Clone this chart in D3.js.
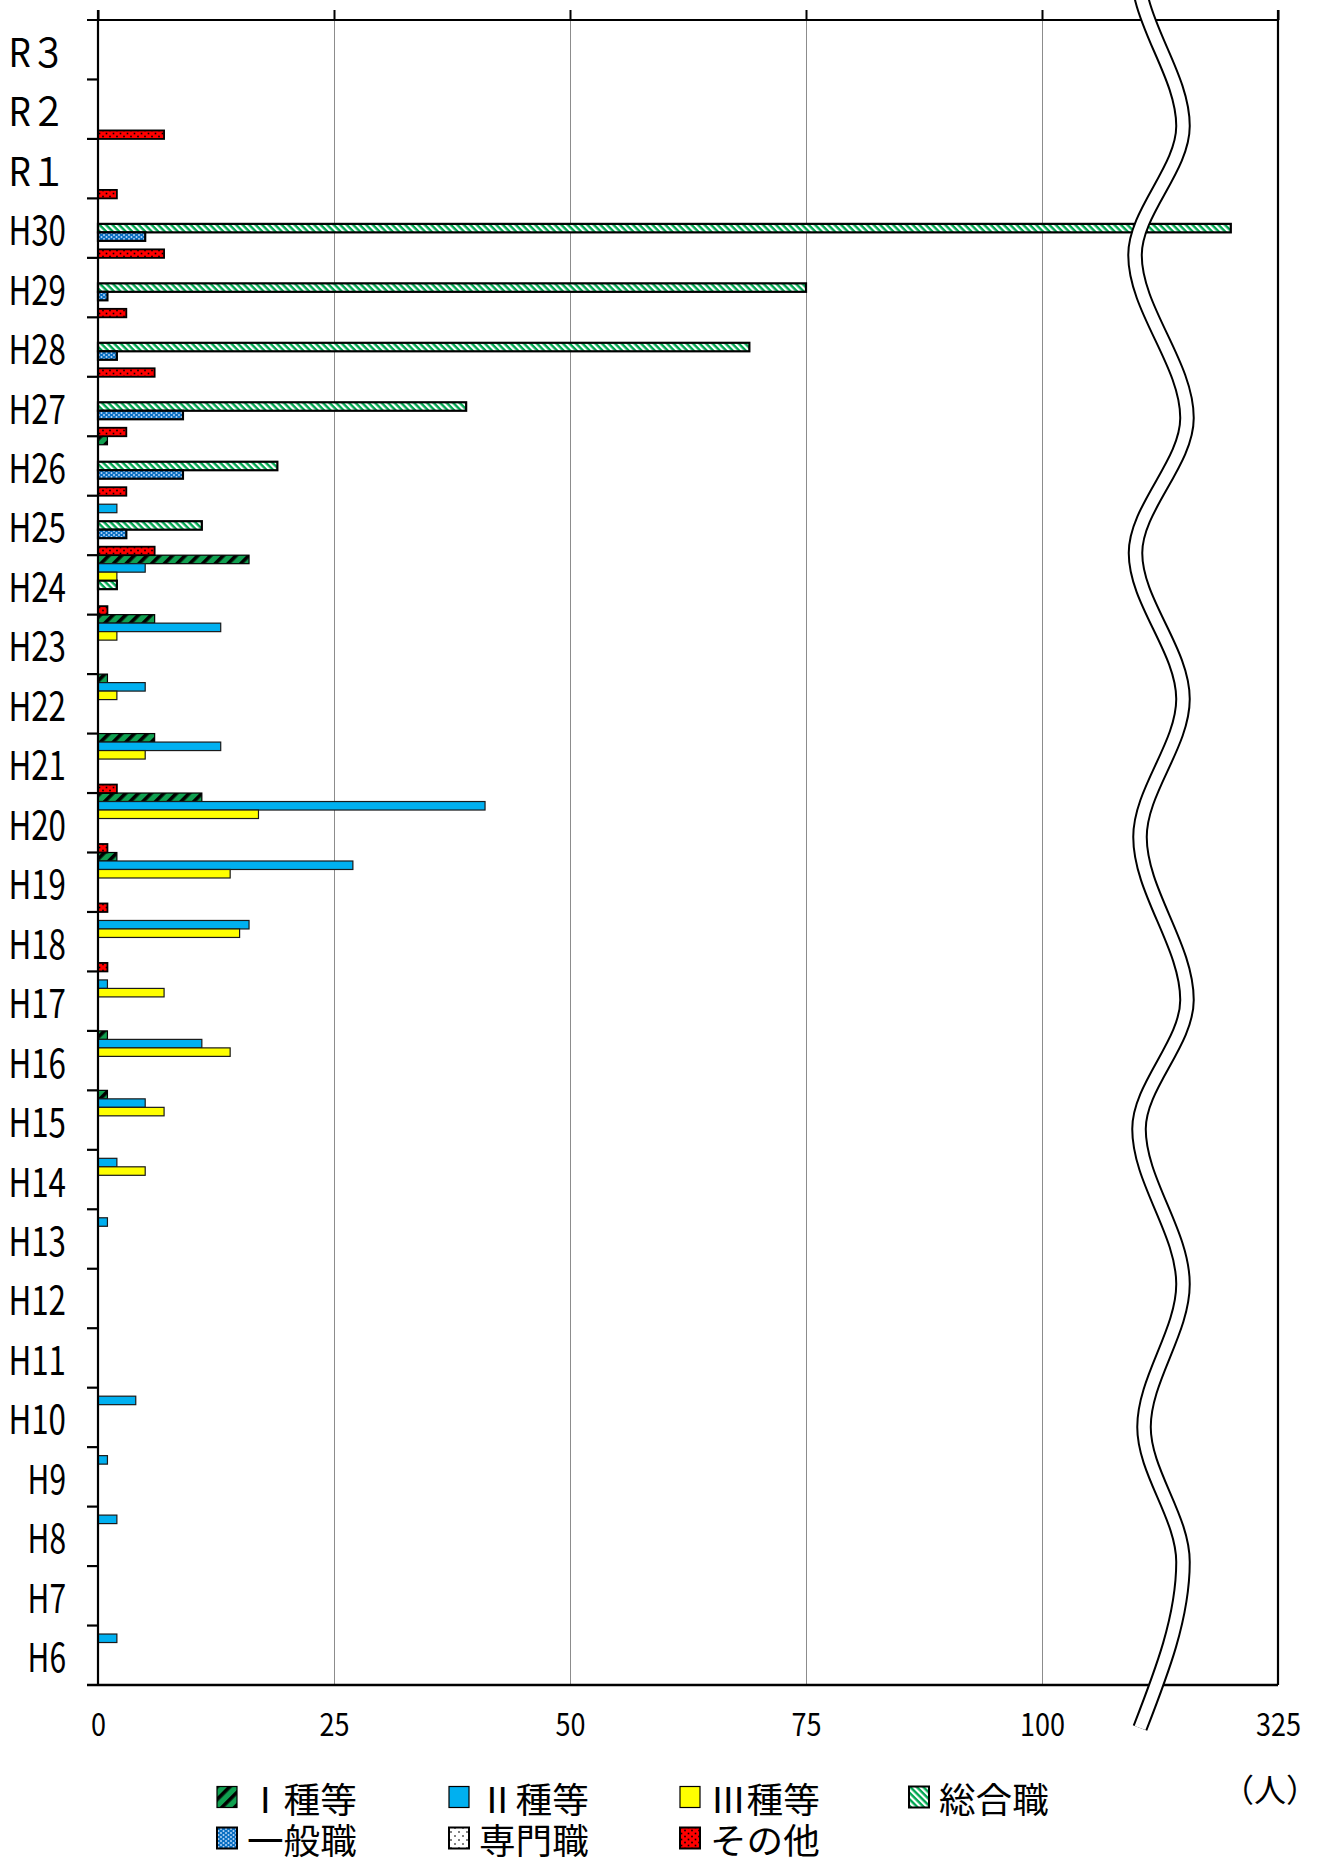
<!DOCTYPE html>
<html lang="ja">
<head>
<meta charset="utf-8">
<script src="https://cdn.jsdelivr.net/npm/d3@7"></script>
<style>
  html, body { margin: 0; padding: 0; background: #fff; }
  svg { display: block; font-family: "Noto Sans CJK JP", sans-serif; }
</style>
</head>
<body>
<svg id="chart" width="1319" height="1861"></svg>
<script>
// ---- data -------------------------------------------------------------
const categories = ["R３","R２","R１","H30","H29","H28","H27","H26","H25","H24","H23","H22",
  "H21","H20","H19","H18","H17","H16","H15","H14","H13","H12","H11","H10","H9","H8","H7","H6"];

const seriesNames = ["Ⅰ種等","Ⅱ種等","Ⅲ種等","総合職","一般職","専門職","その他"];

//                R3 R2 R1 30  29  28  27  26  25  24  23  22  21  20  19  18  17  16  15  14  13  12  11  10  9  8  7  6
const type1     = [0, 0, 0, 0,  0,  0,  0,  1,  0, 16,  6,  1,  6, 11,  2,  0,  0,  1,  1,  0,  0,  0,  0,  0, 0, 0, 0, 0];
const type2     = [0, 0, 0, 0,  0,  0,  0,  0,  2,  5, 13,  5, 13, 41, 27, 16,  1, 11,  5,  2,  1,  0,  0,  4, 1, 2, 0, 2];
const type3     = [0, 0, 0, 0,  0,  0,  0,  0,  0,  2,  2,  2,  5, 17, 14, 15,  7, 14,  7,  5,  0,  0,  0,  0, 0, 0, 0, 0];
const career    = [0, 0, 0, 320, 75, 69, 39, 19, 11,  2,  0,  0,  0,  0,  0,  0,  0,  0,  0,  0,  0,  0,  0,  0, 0, 0, 0, 0];
const general   = [0, 0, 0, 5,  1,  2,  9,  9,  3,  0,  0,  0,  0,  0,  0,  0,  0,  0,  0,  0,  0,  0,  0,  0, 0, 0, 0, 0];
const specialist= [0, 0, 0, 0,  0,  0,  0,  0,  0,  0,  0,  0,  0,  0,  0,  0,  0,  0,  0,  0,  0,  0,  0,  0, 0, 0, 0, 0];
const other     = [0, 7, 2, 7,  3,  6,  3,  3,  6,  1,  0,  0,  2,  1,  1,  1,  0,  0,  0,  0,  0,  0,  0,  0, 0, 0, 0, 0];

// value axis: the last tick sits past a break, so its label reads 325
const valueTicks = [0, 25, 50, 75, 100, 125];
const valueTickLabels = ["0", "25", "50", "75", "100", "325"];
const breakAfter = 100;
const unitLabel = "（人）";

// ---- layout & style ---------------------------------------------------
const M = { left: 98, right: 1278, top: 20, bottom: 1685 };
const breakShift = +valueTickLabels[valueTickLabels.length - 1] - valueTicks[valueTicks.length - 1];
const toAxis = v => (v > breakAfter ? v - breakShift : v);

const styles = [
  { fill: "url(#pat-type1)",  stroke: "#000", sw: 1.2 },
  { fill: "#00b0f0",          stroke: "#1a1a1a", sw: 1.2 },
  { fill: "#ffff00",          stroke: "#1a1a1a", sw: 1.2 },
  { fill: "url(#pat-career)", stroke: "#000", sw: 2.2 },
  { fill: "url(#pat-general)",stroke: "#000", sw: 2.2 },
  { fill: "url(#pat-spec)",   stroke: "#000", sw: 2.2 },
  { fill: "url(#pat-other)",  stroke: "#000", sw: 1.8 }
];
const seriesValues = [type1, type2, type3, career, general, specialist, other];
const series = seriesNames.map((name, i) => ({ name, values: seriesValues[i], ...styles[i] }));

const svg = d3.select("#chart");

// ---- fill patterns ----------------------------------------------------
const defs = svg.append("defs");
function stripePattern(id, bg, fg, size, stripe, angle) {
  const p = defs.append("pattern").attr("id", id).attr("patternUnits", "userSpaceOnUse")
    .attr("width", size).attr("height", size).attr("patternTransform", `rotate(${angle})`);
  p.append("rect").attr("width", size).attr("height", size).attr("fill", bg);
  p.append("rect").attr("width", stripe).attr("height", size).attr("fill", fg);
}
function dotPattern(id, bg, fg, w, h, dots, r) {
  const p = defs.append("pattern").attr("id", id).attr("patternUnits", "userSpaceOnUse")
    .attr("width", w).attr("height", h);
  p.append("rect").attr("width", w).attr("height", h).attr("fill", bg);
  dots.forEach(([cx, cy]) => p.append("rect").attr("x", cx - r).attr("y", cy - r)
    .attr("width", 2 * r).attr("height", 2 * r).attr("fill", fg));
}
stripePattern("pat-type1", "#10a050", "#000", 9, 3.6, 45);
stripePattern("pat-career", "#00a650", "#fff", 4.6, 2.2, -45);
dotPattern("pat-general", "#0a6fc2", "#cfe6ff", 5, 4, [[1.5, 1], [4, 3]], 0.8);
dotPattern("pat-spec", "#fff", "#000", 8, 8, [[2, 2], [6, 6]], 0.7);
dotPattern("pat-other", "#ff0000", "#000", 7, 6, [[1.5, 1.5], [5, 4.5]], 0.8);

// ---- scales -----------------------------------------------------------
const x = d3.scaleLinear().domain([valueTicks[0], valueTicks[valueTicks.length - 1]]).range([M.left, M.right]);
const y = d3.scaleBand().domain(categories).range([M.top, M.bottom]);
const ySub = d3.scaleBand().domain(seriesNames).range([0, y.bandwidth()]);

// ---- grid -------------------------------------------------------------
svg.append("g").selectAll("line")
  .data(valueTicks.filter((d, i) => i > 0 && i < valueTicks.length - 1))
  .join("line")
  .attr("x1", d => x(d) + 0.5).attr("x2", d => x(d) + 0.5)
  .attr("y1", M.top).attr("y2", M.bottom)
  .attr("stroke", "#8c8c8c").attr("stroke-width", 1);

// ---- bars -------------------------------------------------------------
const groups = svg.append("g").selectAll("g")
  .data(series).join("g")
  .attr("fill", d => d.fill).attr("stroke", d => d.stroke).attr("stroke-width", d => d.sw);

groups.selectAll("rect")
  .data(s => s.values.map((v, i) => ({ v, cat: categories[i], name: s.name })).filter(d => d.v > 0))
  .join("rect")
  .attr("x", x(0))
  .attr("y", d => y(d.cat) + ySub(d.name))
  .attr("width", d => x(toAxis(d.v)) - x(0))
  .attr("height", ySub.bandwidth());

// ---- frame & ticks ----------------------------------------------------
const frame = svg.append("g").attr("stroke", "#000").attr("stroke-width", 2.2).attr("fill", "none");
const tickLen = 11;
frame.append("line").attr("x1", M.left - tickLen).attr("x2", M.right).attr("y1", M.top).attr("y2", M.top);
frame.append("line").attr("x1", M.left - tickLen).attr("x2", M.right).attr("y1", M.bottom).attr("y2", M.bottom).attr("stroke-width", 2.6);
frame.append("line").attr("x1", M.left).attr("x2", M.left).attr("y1", M.top - 10).attr("y2", M.bottom);
frame.append("line").attr("x1", M.right).attr("x2", M.right).attr("y1", M.top - 10).attr("y2", M.bottom);

// value ticks along the top edge
const topAxis = svg.append("g").attr("transform", `translate(0,${M.top})`)
  .call(d3.axisTop(x).tickValues(valueTicks).tickSize(10).tickFormat(""));
topAxis.select(".domain").remove();
topAxis.selectAll("line").attr("stroke", "#000").attr("stroke-width", 2);

// category boundary ticks
svg.append("g").attr("stroke", "#000").attr("stroke-width", 2.2)
  .selectAll("line").data(categories.slice(1)).join("line")
  .attr("x1", M.left - tickLen).attr("x2", M.left)
  .attr("y1", d => y(d)).attr("y2", d => y(d));

// ---- axis labels ------------------------------------------------------
const halfWidth = s => Array.from(s).reduce((n, ch) => n + (ch.charCodeAt(0) > 0xff ? 2 : 1), 0);

const leftAxis = svg.append("g").attr("transform", `translate(${M.left},0)`)
  .call(d3.axisLeft(y).tickSize(0).tickPadding(32));
leftAxis.select(".domain").remove();
leftAxis.selectAll("text")
  .attr("font-family", '"Noto Sans CJK JP", sans-serif')
  .attr("font-size", 40).attr("fill", "#000")
  .attr("dy", null).attr("dominant-baseline", "central")
  .attr("textLength", d => halfWidth(d) * 19.2)
  .attr("lengthAdjust", "spacingAndGlyphs");

const bottomAxis = svg.append("g").attr("transform", `translate(0,${M.bottom})`)
  .call(d3.axisBottom(x).tickValues(valueTicks).tickSize(0).tickPadding(37)
    .tickFormat((d, i) => valueTickLabels[i]));
bottomAxis.select(".domain").remove();
bottomAxis.selectAll("text")
  .attr("font-family", '"Noto Sans CJK JP", sans-serif')
  .attr("font-size", 31).attr("fill", "#000")
  .attr("dy", null).attr("dominant-baseline", "central")
  .attr("textLength", function () { return this.textContent.length * 15; })
  .attr("lengthAdjust", "spacingAndGlyphs");

// ---- axis break symbol ------------------------------------------------
const breakX = x(112.5);
const breakWave = [[-24, -25], [-18, 0], [23, 126], [-25, 255], [27, 418], [-24.5, 553], [23, 699],
  [-20, 837], [27, 1000], [-21, 1129], [23, 1284], [-16, 1427], [23, 1562], [-20, 1728]];
const wavePath = d3.line().x(d => breakX + d[0]).y(d => d[1]).curve(d3.curveMonotoneY)(breakWave);
svg.append("path").attr("d", wavePath).attr("fill", "none").attr("stroke", "#000").attr("stroke-width", 15.5);
svg.append("path").attr("d", wavePath).attr("fill", "none").attr("stroke", "#fff").attr("stroke-width", 11.5);

// ---- legend -----------------------------------------------------------
const legendCols = [217, 449, 680, 909];
const legendRows = [1797, 1838];
const legend = svg.append("g");
series.forEach((s, k) => {
  const cx = legendCols[k % 4], cy = legendRows[Math.floor(k / 4)];
  const g = legend.append("g").attr("transform", `translate(${cx},${cy})`);
  g.append("rect").attr("x", 0).attr("y", -10.5).attr("width", 20).attr("height", 21)
    .attr("fill", s.fill).attr("stroke", "#000").attr("stroke-width", s.sw > 1.5 ? 2 : 1.2);
  g.append("text").attr("x", 30).attr("y", 0).attr("dominant-baseline", "central")
    .attr("font-size", 35).attr("fill", "#000")
    .attr("textLength", halfWidth(s.name) * 18.3).attr("lengthAdjust", "spacingAndGlyphs")
    .text(s.name);
});

svg.append("text").attr("x", 1270).attr("y", 1788).attr("text-anchor", "middle")
  .attr("dominant-baseline", "central").attr("font-size", 32).attr("fill", "#000").text(unitLabel);
</script>
</body>
</html>
